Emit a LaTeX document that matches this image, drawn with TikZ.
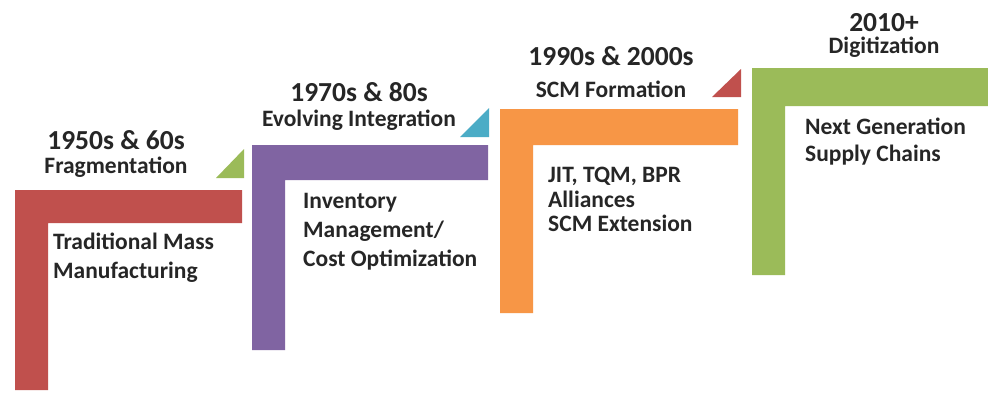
\documentclass[tikz,border=0pt]{standalone}
\usepackage{fontspec}
\setmainfont{Carlito}
\newcommand{\yearline}[1]{{\fontsize{27.5}{31}\selectfont #1}}
\begin{document}
\begin{tikzpicture}[x=1pt,y=-1pt,
  txt/.style={text=txtgray,inner sep=0pt},
  head/.style={txt,anchor=base,align=center,font=\fontsize{23.5}{#1}\selectfont\bfseries},
  body/.style={txt,anchor=north west,align=left,font=\fontsize{23.5}{#1}\selectfont\bfseries},
  bar/.style={fill=#1,draw=none},
  flag/.style={fill=#1,draw=none}]
\definecolor{txtgray}{HTML}{262626}
\definecolor{cred}{HTML}{C0504D}
\definecolor{cpurple}{HTML}{8064A2}
\definecolor{corange}{HTML}{F79646}
\definecolor{cgreen}{HTML}{9BBB59}
\definecolor{cteal}{HTML}{4BACC6}
\useasboundingbox[fill=white] (0,0) rectangle (988,392);

% L-shaped steps
\fill[bar=cred]    (15,190) -- (242,190) -- (242,223) -- (48,223) -- (48,390) -- (15,390) -- cycle;
\fill[bar=cpurple] (252,145) -- (488,145) -- (488,180) -- (285,180) -- (285,350) -- (252,350) -- cycle;
\fill[bar=corange] (500,109) -- (738,109) -- (738,145) -- (533,145) -- (533,313) -- (500,313) -- cycle;
\fill[bar=cgreen]  (752,68) -- (988,68) -- (988,106) -- (785,106) -- (785,275) -- (752,275) -- cycle;

% corner flags
\fill[flag=cgreen] (216,178) -- (244,178) -- (244,149) -- cycle;
\fill[flag=cteal]  (460,137) -- (489,137) -- (489,108) -- cycle;
\fill[flag=cred]   (712,97) -- (741,97) -- (741,69) -- cycle;

% period headings: year over era name
\node[head=24] (h1) at (116,173) {\yearline{1950s \& 60s}\\Fragmentation};
\node[head=25] (h2) at (359,126) {\yearline{1970s \& 80s}\\Evolving Integration};
\node[head=32] (h3) at (611,97) {\yearline{1990s \& 2000s}\\SCM Formation};
\node[head=22] (h4) at (884,53) {\yearline{2010+}\\Digitization};

% descriptions
\node[body=29]   (d1) at (53,233) {Traditional Mass\\Manufacturing};
\node[body=29]   (d2) at (303,193) {Inventory\\Management/\\Cost Optimization};
\node[body=24.5] (d3) at (548,167) {JIT, TQM, BPR\\Alliances\\SCM Extension};
\node[body=27]   (d4) at (805,118) {Next Generation\\Supply Chains};
\end{tikzpicture}
\end{document}
